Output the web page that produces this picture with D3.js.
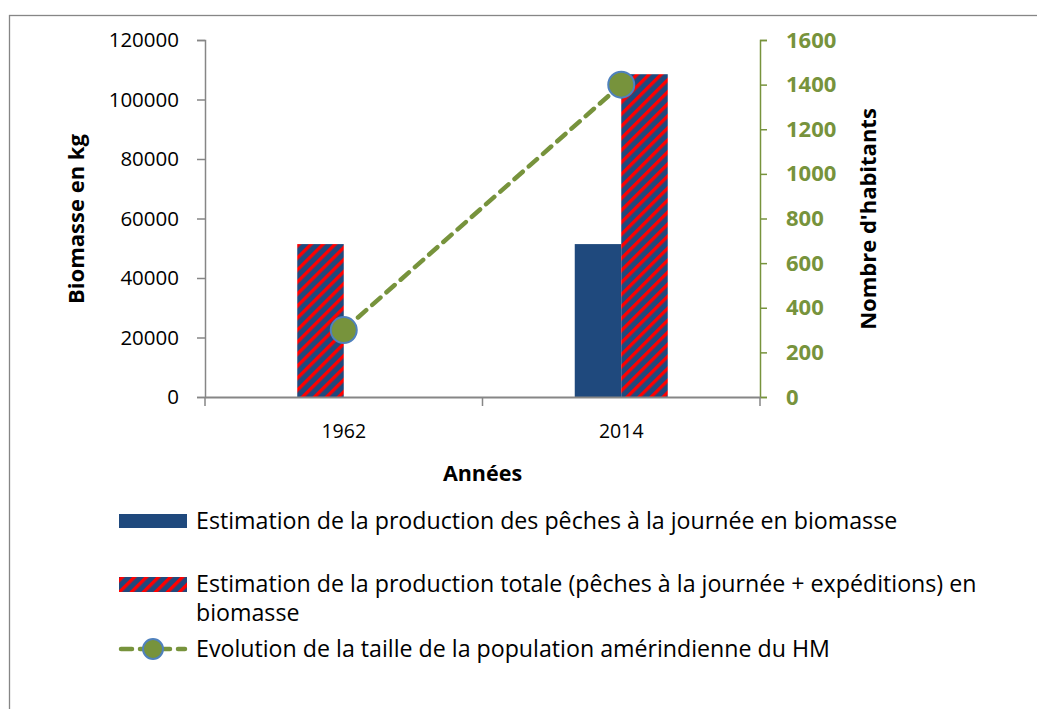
<!DOCTYPE html>
<html>
<head>
<meta charset="utf-8">
<script src="https://cdn.jsdelivr.net/npm/d3@7"></script>
<style>
  html, body { margin: 0; padding: 0; background: #fff; }
  svg { display: block; font-family: "Open Sans", "Noto Sans", sans-serif; }
</style>
</head>
<body>
<svg id="chart" width="1037" height="709"></svg>
<script>
// Years on the category axis
const years = ["1962", "2014"];
// Day-fishing production (kg); the 1962 point is styled as total production
const dayFishing = [51400, 51400];
// Total production (kg), day fishing + expeditions
const totalProduction = [null, 108500];
// Amerindian population size
const population = [300, 1400];
// Tick values
const leftTicks = [0, 20000, 40000, 60000, 80000, 100000, 120000];
const rightTicks = [0, 200, 400, 600, 800, 1000, 1200, 1400, 1600];

const legendLabels = [
  "Estimation de la production des pêches à la journée en biomasse",
  ["Estimation de la production totale (pêches à la journée + expéditions) en", "biomasse"],
  "Evolution de la taille de la population amérindienne du HM"
];

const BLUE = "#1F497D", RED = "#FF0000", GREEN = "#77933C", AXIS = "#868686";

const svg = d3.select("#chart");

// Striped fill
const defs = svg.append("defs");
const pat = defs.append("pattern")
  .attr("id", "stripes")
  .attr("patternUnits", "userSpaceOnUse")
  .attr("width", 8.5).attr("height", 8.5)
  .attr("patternTransform", "rotate(45)");
pat.append("rect").attr("width", 8.5).attr("height", 8.5).attr("fill", BLUE);
pat.append("rect").attr("width", 3.3).attr("height", 8.5).attr("fill", RED);

// Outer frame
svg.append("rect")
  .attr("x", 9.5).attr("y", 15.5)
  .attr("width", 1040).attr("height", 710)
  .attr("fill", "#fff").attr("stroke", AXIS).attr("stroke-width", 1.3);

const plot = { left: 205, right: 760, top: 40, bottom: 397 };

const x = d3.scaleBand().domain(years).range([plot.left, plot.right]);
const yL = d3.scaleLinear().domain([0, 120000]).range([plot.bottom, plot.top]);
const yR = d3.scaleLinear().domain([0, 1600]).range([plot.bottom, plot.top]);
const barW = 46.5;

// Bars: slot 0 = day fishing, slot 1 = total production
const barsData = [];
years.forEach((yr, i) => {
  if (dayFishing[i] != null) barsData.push({ yr, slot: 0, v: dayFishing[i], fill: i === 0 ? "url(#stripes)" : BLUE });
  if (totalProduction[i] != null) barsData.push({ yr, slot: 1, v: totalProduction[i], fill: "url(#stripes)" });
});
const center = d => x(d) + x.bandwidth() / 2;
svg.append("g").selectAll("rect").data(barsData).join("rect")
  .attr("x", d => center(d.yr) - barW + d.slot * barW)
  .attr("y", d => yL(d.v))
  .attr("width", barW)
  .attr("height", d => yL(0) - yL(d.v))
  .attr("fill", d => d.fill);

// Left axis
const gL = svg.append("g").attr("transform", `translate(${plot.left},0)`)
  .call(d3.axisLeft(yL).tickValues(leftTicks).tickSize(8).tickPadding(18).tickFormat(d3.format("d")));
gL.select(".domain").attr("stroke", AXIS).attr("stroke-width", 1.5);
gL.selectAll(".tick line").attr("stroke", AXIS).attr("stroke-width", 1.5);
gL.selectAll(".tick text").attr("fill", "#000").style("font-size", "20.5px")
  .style("font-family", "'Open Sans', sans-serif");

// Right axis
const gR = svg.append("g").attr("transform", `translate(${plot.right},0)`)
  .call(d3.axisRight(yR).tickValues(rightTicks).tickSize(7).tickPadding(19).tickFormat(d3.format("d")));
gR.select(".domain").attr("stroke", GREEN).attr("stroke-width", 1.5);
gR.selectAll(".tick line").attr("stroke", GREEN).attr("stroke-width", 1.5);
gR.selectAll(".tick text").attr("fill", GREEN).style("font-size", "22px")
  .style("font-weight", "bold").style("font-family", "'Open Sans', sans-serif");

// Bottom axis
const gB = svg.append("g").attr("transform", `translate(0,${plot.bottom})`)
  .call(d3.axisBottom(x).tickSize(0).tickPadding(27));
gB.select(".domain").attr("stroke", AXIS).attr("stroke-width", 2);
gB.selectAll(".tick text").attr("fill", "#000").style("font-size", "19.5px")
  .style("font-family", "'Open Sans', sans-serif");
// Category separators
svg.append("g").selectAll("line")
  .data([plot.left, plot.left + x.step(), plot.right]).join("line")
  .attr("x1", d => d).attr("x2", d => d)
  .attr("y1", plot.bottom).attr("y2", plot.bottom + 9)
  .attr("stroke", AXIS).attr("stroke-width", 1.5);

// Population line
const line = d3.line().x((d, i) => center(years[i])).y(d => yR(d));
svg.append("path").datum(population)
  .attr("d", line)
  .attr("fill", "none").attr("stroke", GREEN).attr("stroke-width", 4.5)
  .attr("stroke-dasharray", "11,8").attr("stroke-linecap", "round");
svg.append("g").selectAll("circle").data(population).join("circle")
  .attr("cx", (d, i) => center(years[i])).attr("cy", d => yR(d))
  .attr("r", 13).attr("fill", GREEN).attr("stroke", "#4F81BD").attr("stroke-width", 2);

// Axis titles
svg.append("text").attr("transform", "translate(84,219) rotate(-90)")
  .attr("text-anchor", "middle").style("font-size", "22px").style("font-weight", "bold")
  .text("Biomasse en kg");
svg.append("text").attr("transform", "translate(876,219) rotate(-90)")
  .attr("text-anchor", "middle").style("font-size", "22px").style("font-weight", "bold")
  .text("Nombre d'habitants");
svg.append("text").attr("x", x("1962") + x.step()).attr("y", 481)
  .attr("text-anchor", "middle").style("font-size", "21.5px").style("font-weight", "bold")
  .text("Années");

// Legend
const lg = svg.append("g");
const lx = 119, lw = 68, tx = 196, fs = "23.2px";
lg.append("rect").attr("x", lx).attr("y", 514).attr("width", lw).attr("height", 14).attr("fill", BLUE);
lg.append("text").attr("x", tx).attr("y", 529).style("font-size", fs).text(legendLabels[0]);

lg.append("rect").attr("x", lx).attr("y", 577).attr("width", lw).attr("height", 15).attr("fill", "url(#stripes)");
lg.append("text").attr("x", tx).attr("y", 592).style("font-size", fs).text(legendLabels[1][0]);
lg.append("text").attr("x", tx).attr("y", 621).style("font-size", fs).text(legendLabels[1][1]);

lg.append("line").attr("x1", lx + 2).attr("x2", lx + lw - 2).attr("y1", 649).attr("y2", 649)
  .attr("stroke", GREEN).attr("stroke-width", 4.5).attr("stroke-dasharray", "11,8").attr("stroke-linecap", "round");
lg.append("circle").attr("cx", lx + lw / 2).attr("cy", 649).attr("r", 10)
  .attr("fill", GREEN).attr("stroke", "#4F81BD").attr("stroke-width", 2);
lg.append("text").attr("x", tx).attr("y", 657).style("font-size", fs).text(legendLabels[2]);
</script>
</body>
</html>
